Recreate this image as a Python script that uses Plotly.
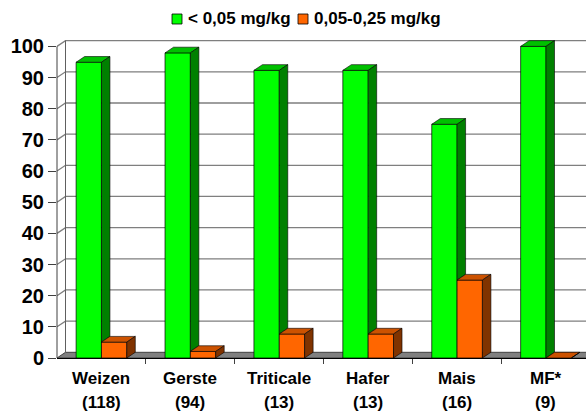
import plotly.graph_objects as go

# ---------------- data ----------------
categories = ["Weizen", "Gerste", "Triticale", "Hafer", "Mais", "MF*"]
sample_counts = ["(118)", "(94)", "(13)", "(13)", "(16)", "(9)"]
low_values = [94.9, 97.9, 92.3, 92.3, 75.0, 100.0]      # < 0,05 mg/kg
mid_values = [5.1, 2.1, 7.7, 7.7, 25.0, 0.0]            # 0,05-0,25 mg/kg
series_names = ["< 0,05 mg/kg", "0,05-0,25 mg/kg"]
y_ticks = list(range(0, 101, 10))

# ---------------- layout constants ----------------
W, H = 586, 411
ML, MR, MT = 57, 0, 37
plot_w = W - ML - MR
plot_h = 321
MB = H - MT - plot_h
XR = [-0.5, 5.45]
YR = [0, 103]
px_x = plot_w / (XR[1] - XR[0])
px_y = plot_h / (YR[1] - YR[0])
DX = 8.5 / px_x          # 3D depth offset in data units
DY = 5.7 / px_y
BW = 0.285               # bar width (category units)
FONT = "Arial, Liberation Sans, sans-serif"

colors = {
    "low": dict(front="#00FF00", top="#00C000", side="#008000"),
    "mid": dict(front="#FF6600", top="#CC5200", side="#803300"),
}


def paper_x(px):
    return (px - ML) / plot_w


def paper_y(py):
    return (MT + plot_h - py) / plot_h


xs = list(range(len(categories)))
fig = go.Figure()

# front faces as real bars
fig.add_trace(go.Bar(x=xs, y=low_values, width=BW, offset=-BW, name=series_names[0],
                     marker=dict(color=colors["low"]["front"], line=dict(color="#000000", width=0.7))))
fig.add_trace(go.Bar(x=xs, y=mid_values, width=BW, offset=0, name=series_names[1],
                     marker=dict(color=colors["mid"]["front"], line=dict(color="#000000", width=0.7))))


def poly(px, py, color):
    fig.add_trace(go.Scatter(x=px + [px[0]], y=py + [py[0]], mode="lines", fill="toself",
                             fillcolor=color, line=dict(color="#000000", width=0.6),
                             showlegend=False, hoverinfo="skip"))


# 3D top and side faces derived from the values
for i, v in enumerate(low_values):
    x0, x1 = i - BW, i
    poly([x0, x1, x1 + DX, x0 + DX], [v, v, v + DY, v + DY], colors["low"]["top"])
    base = min(mid_values[i], v)
    poly([x1, x1, x1 + DX, x1 + DX], [base, v, v + DY, base + DY], colors["low"]["side"])
for i, v in enumerate(mid_values):
    x0, x1 = i, i + BW
    poly([x0, x1, x1 + DX, x0 + DX], [v, v, v + DY, v + DY], colors["mid"]["top"])
    poly([x1, x1, x1 + DX, x1 + DX], [0, v, v + DY, DY], colors["mid"]["side"])

# walls / floor
shapes = []
xl = XR[0]
xr_far = XR[1] + 1
shapes.append(dict(type="path", xref="x", yref="y", layer="below",
                   path=f"M {xl},0 L {xr_far},0 L {xr_far + DX},{DY} L {xl + DX},{DY} Z",
                   fillcolor="#808080", line=dict(color="#404040", width=1)))
for t in y_ticks[1:]:
    shapes.append(dict(type="path", xref="x", yref="y", layer="below",
                       path=f"M {xl},{t} L {xl + DX},{t + DY} L {xr_far},{t + DY}",
                       line=dict(color="#7F7F7F", width=1.3)))
shapes.append(dict(type="line", xref="x", yref="y", layer="below",
                   x0=xl + DX, x1=xl + DX, y0=DY, y1=y_ticks[-1] + DY,
                   line=dict(color="#606060", width=1)))
shapes.append(dict(type="line", xref="paper", yref="y", layer="above",
                   x0=0, x1=0, y0=0, y1=y_ticks[-1],
                   line=dict(color="#404040", width=1)))

# legend (drawn manually to match the compact original layout)
legend_items = [(series_names[0], colors["low"]["front"], 172),
                (series_names[1], colors["mid"]["front"], 298)]
annotations = []
for name, col, lx in legend_items:
    shapes.append(dict(type="rect", xref="paper", yref="paper",
                       x0=paper_x(lx), x1=paper_x(lx + 10), y0=paper_y(24), y1=paper_y(14),
                       fillcolor=col, line=dict(color="#000000", width=0.8)))
    annotations.append(dict(x=paper_x(lx + 14), y=paper_y(19), xref="paper", yref="paper",
                            text=name, showarrow=False, xanchor="left", yanchor="middle",
                            font=dict(family=FONT, size=17, color="#000000", weight="bold")))

for i, (c, n) in enumerate(zip(categories, sample_counts)):
    annotations.append(dict(x=i, y=paper_y(379), xref="x", yref="paper", text=c, showarrow=False,
                            yanchor="middle",
                            font=dict(family=FONT, size=17, color="#000000", weight="bold")))
    annotations.append(dict(x=i, y=paper_y(402), xref="x", yref="paper", text=n, showarrow=False,
                            yanchor="middle",
                            font=dict(family=FONT, size=17, color="#000000", weight="bold")))

fig.update_layout(
    width=W, height=H,
    margin=dict(l=ML, r=MR, t=MT, b=MB, pad=0, autoexpand=False),
    paper_bgcolor="#FFFFFF", plot_bgcolor="#FFFFFF",
    barmode="overlay", hovermode=False,
    shapes=shapes, annotations=annotations,
    showlegend=False,
    xaxis=dict(range=XR, showgrid=False, zeroline=False, showline=True, linecolor="#000000",
               linewidth=1, tickvals=[k + 0.5 for k in range(len(categories) - 1)],
               ticks="outside", ticklen=5, tickcolor="#404040", showticklabels=False,
               automargin=False, fixedrange=True),
    yaxis=dict(range=YR, showgrid=False, zeroline=False, showline=False,
               tickvals=y_ticks, ticks="outside", ticklen=8, tickcolor="#404040",
               automargin=False, fixedrange=True,
               tickfont=dict(family=FONT, size=20, color="#000000", weight="bold")),
)

fig.write_html("out.html", config={"displayModeBar": False, "staticPlot": True},
               post_script="document.body.style.margin='0';document.body.style.overflow='hidden';")
